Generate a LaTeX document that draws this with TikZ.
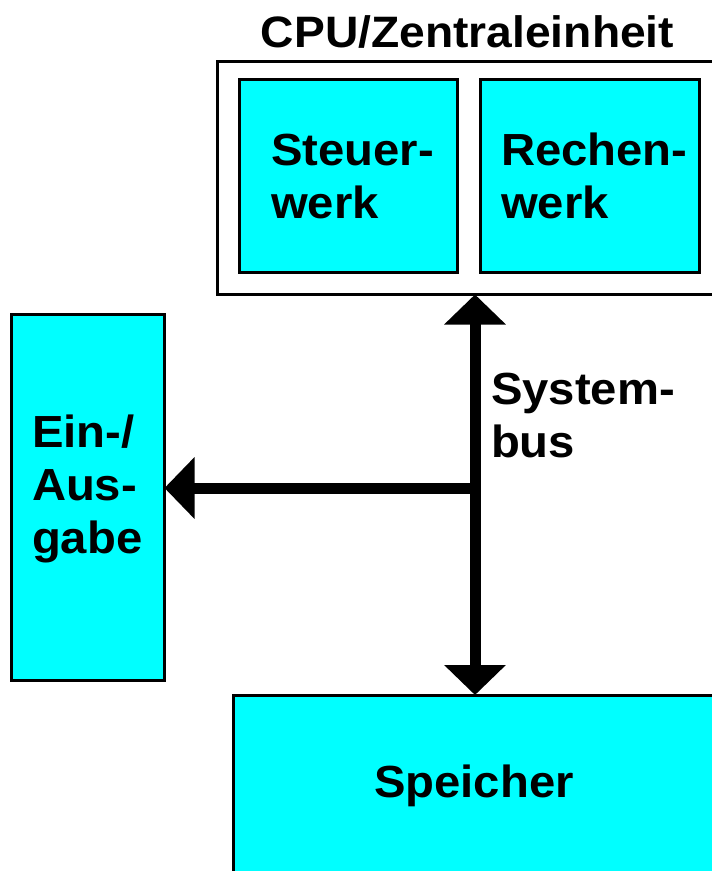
\documentclass[tikz,border=0pt]{standalone}
\usepackage{fontspec}
\setmainfont{Liberation Sans}[FakeStretch=1.05]
\usetikzlibrary{arrows.meta}
\definecolor{boxcyan}{HTML}{00FFFF}
\begin{document}
\begin{tikzpicture}[x=1pt,y=1pt,
  box/.style={draw=black, line width=3pt, fill=boxcyan, rectangle, inner sep=0pt, outer sep=0pt},
  frame/.style={draw=black, line width=3pt, fill=white, rectangle, inner sep=0pt, outer sep=0pt},
  lbl/.style={inner sep=0pt, outer sep=0pt, align=left, anchor=base west,
    font=\fontsize{45}{53}\selectfont\bfseries},
  busline/.style={line width=11pt, draw=black},
  bustip/.style={-{Triangle[width=60pt,length=30pt]}}
]
\useasboundingbox (0,0) rectangle (712,-871);
\fill[white] (0,0) rectangle (712,-871);
% boxes
\node[frame, minimum width=523pt, minimum height=233pt] (cpu) at (478.5,-178) {};
\node[box, minimum width=218pt, minimum height=193pt] (steuer) at (348.5,-176) {};
\node[box, minimum width=219pt, minimum height=193pt] (rechen) at (590,-176) {};
\node[box, minimum width=153.5pt, minimum height=366.5pt] (io) at (87.75,-497.25) {};
\node[box, minimum width=527pt, minimum height=205pt] (speicher) at (496.5,-797.5) {};
% texts (base anchor = baseline of last line)
\node[lbl, anchor=base, font=\fontsize{44}{53}\selectfont\bfseries] (title) at (467.5,-47) {CPU/Zentraleinheit};
\node[lbl] (tsteuer) at (271,-218) {Steuer-\\werk};
\node[lbl] (trechen) at (501,-218) {Rechen-\\werk};
\node[lbl] (tio) at (32,-553) {Ein-/\\Aus-\\gabe};
\node[lbl] (tbus) at (491,-457) {System-\\bus};
\node[lbl, anchor=base] (tspeicher) at (474,-797) {Speicher};
% bus
\coordinate (junc) at (475,-488);
\draw[busline, {Triangle[width=60pt,length=30pt]}-{Triangle[width=60pt,length=30pt]}]
  (cpu.south -| junc) -- (speicher.north -| junc);
\draw[busline, bustip] (junc) -- (io.east |- junc);
\end{tikzpicture}
\end{document}
